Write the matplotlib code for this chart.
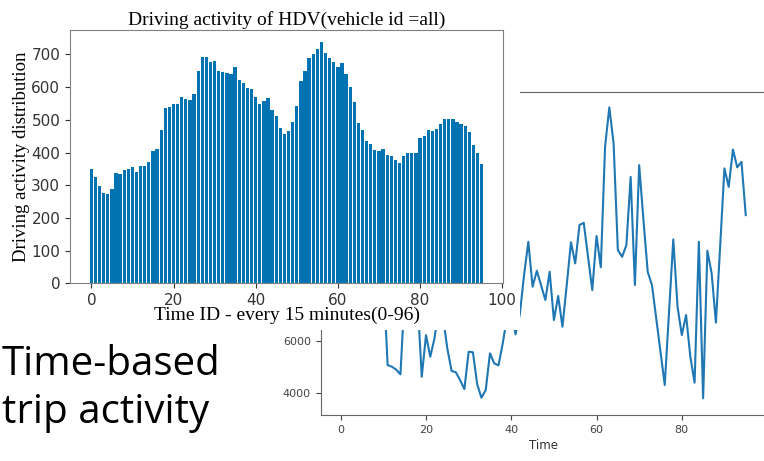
import matplotlib.pyplot as plt
from matplotlib.patches import Rectangle
import numpy as np

# time ids 0..95 (15 minute slots)
time_ids = np.arange(96)

# driving activity per slot (bar chart)
activity = [351, 326, 297, 275, 272, 290, 338, 334, 348, 351,
            356, 340, 359, 359, 372, 405, 410, 470, 536, 538,
            550, 547, 570, 565, 562, 580, 650, 692, 692, 676,
            681, 650, 647, 644, 641, 661, 622, 613, 598, 595,
            570, 548, 557, 568, 531, 511, 476, 458, 465, 494,
            541, 619, 651, 689, 702, 717, 738, 704, 690, 677,
            661, 674, 641, 602, 555, 491, 468, 436, 425, 407,
            405, 410, 392, 389, 377, 369, 389, 399, 399, 399,
            443, 450, 470, 465, 473, 486, 503, 503, 504, 494,
            486, 482, 462, 422, 399, 364]

# trip counts per slot (line chart behind)
trip_counts = [8200, 7900, 7600, 7300, 7000, 7400, 8000, 8600, 9100, 8800,
               8400, 5075, 5010, 4900, 4720, 7800, 8300, 8000, 7600, 4630,
               6210, 5390, 6100, 7300, 6900, 5700, 4850, 4800, 4500, 4160,
               5580, 5560, 4350, 3830, 4120, 5520, 5140, 5060, 5900, 6900,
               7100, 6240, 7000, 8500, 9760, 8050, 8660, 8100, 7545, 8620,
               6785, 7700, 6530, 8100, 9740, 8940, 10400, 10480, 9200, 7925,
               9980, 8790, 13370, 14870, 13500, 9445, 9190, 9635, 12230, 8115,
               12675, 10600, 8620, 8115, 6850, 5580, 4315, 7080, 9850, 7290,
               6215, 6975, 5390, 4405, 9760, 3810, 9420, 8560, 6685, 9600,
               12550, 11850, 13270, 12590, 12800, 10775]

W, H = 764, 461
fig = plt.figure(figsize=(W / 100, H / 100), dpi=100)


def box(l, t, r, b):  # pixel box -> figure fraction
    return [l / W, 1 - b / H, (r - l) / W, (b - t) / H]


# line chart (partly hidden)
ax2 = fig.add_axes(box(320.5, 92, 766, 415), zorder=0)
ax2.plot(time_ids, trip_counts, color='#1f77b4', lw=1.5)
ax2.set_xlim(-4.75, 99.75)
ax2.set_ylim(3175, 15455)
ax2.set_xticks([0, 20, 40, 60, 80])
ax2.set_yticks(range(4000, 16000, 2000))
ax2.set_xlabel('Time', fontsize=8.5, color='#333333', labelpad=3)
for s in ax2.spines.values():
    s.set_color('#666666')
ax2.tick_params(labelsize=8, colors='#444444', length=3.5)

# white background of the bar chart image
fig.add_artist(Rectangle((0, 1 - 330 / H), 520 / W, 330 / H, transform=fig.transFigure,
                         facecolor='white', edgecolor='none', zorder=1))

# bar chart on top
ax = fig.add_axes(box(70, 30, 503, 283.3), zorder=2)
ax.bar(time_ids, activity, color='#0173b2', width=0.8)
ax.set_xticks(range(0, 101, 20))
ax.set_yticks(range(0, 701, 100))
ax.tick_params(labelsize=11, colors='#333333', length=3.5)
for s in ax.spines.values():
    s.set_color('#808080')
ax.set_title('Driving activity of HDV(vehicle id =all)', family='Liberation Serif',
             fontsize=14, pad=4)
ax.set_xlabel('Time ID - every 15 minutes(0-96)', family='Liberation Serif', fontsize=14,
              labelpad=-1)
ax.set_ylabel('Driving activity distribution', family='Liberation Serif', fontsize=13.5,
              labelpad=1)

# slide caption
fig.text(2 / W, 1 - 375 / H, 'Time-based', family='Open Sans', fontsize=29, va='baseline')
fig.text(2 / W, 1 - 423 / H, 'trip activity', family='Open Sans', fontsize=29, va='baseline')

fig.savefig('out.png', dpi=100)
